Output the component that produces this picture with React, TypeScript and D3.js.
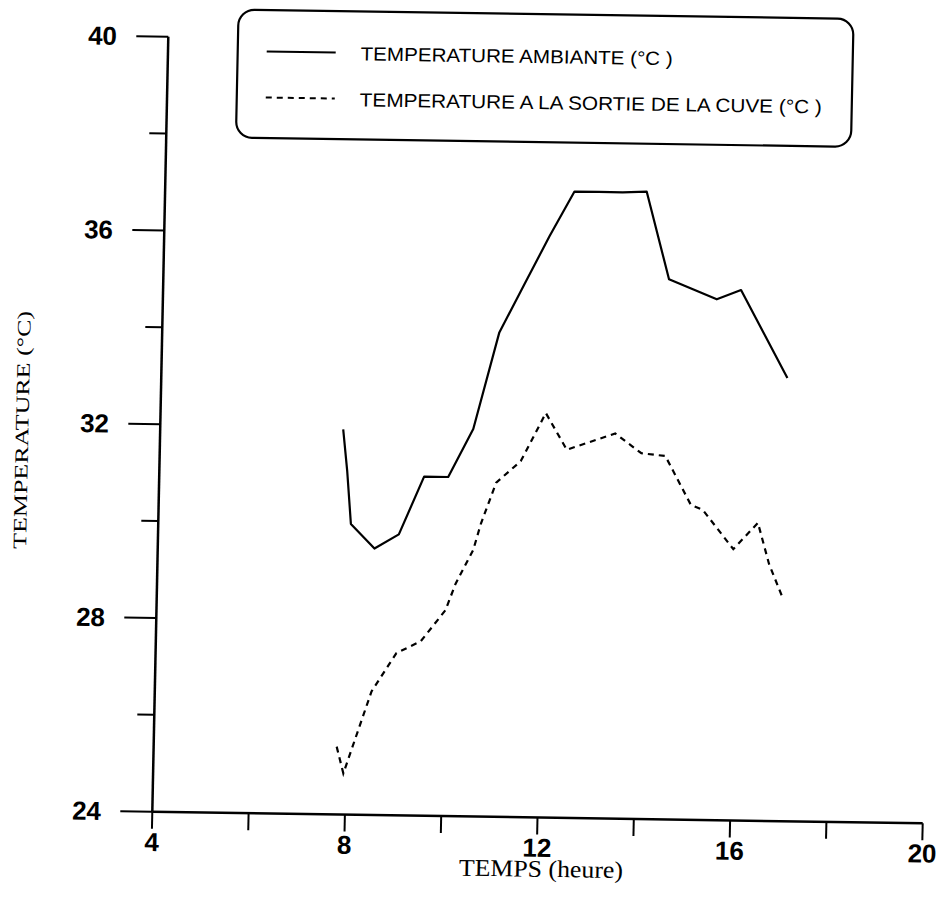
import React from "react";
import * as d3 from "d3";

// ---- data ----
const timeAmbiante = [7.8, 7.9, 8.0, 8.5, 9.0, 9.5, 10.0, 10.5, 11.0, 11.5, 12.0, 12.5, 13.0, 13.5, 14.0, 14.5, 15.0, 15.5, 16.0, 16.5, 17.0];
const tempAmbiante = [31.95, 31.1, 30.0, 29.5, 29.8, 31.0, 31.0, 32.0, 34.0, 35.0, 36.0, 36.93, 36.93, 36.93, 36.95, 35.15, 34.95, 34.75, 34.95, 34.05, 33.15];

const timeCuve = [7.8, 7.95, 8.5, 9.0, 9.3, 9.5, 10.0, 10.2, 10.55, 10.7, 11.0, 11.5, 12.0, 12.45, 13.45, 14.0, 14.5, 15.05, 15.3, 15.95, 16.45, 16.7, 17.0];
const tempCuve = [25.4, 24.85, 26.55, 27.35, 27.5, 27.6, 28.25, 28.8, 29.5, 30.05, 30.9, 31.35, 32.35, 31.6, 31.95, 31.55, 31.5, 30.5, 30.4, 29.6, 30.15, 29.3, 28.6];

const xMajorTicks = [4, 8, 12, 16, 20];
const xMinorTicks = [6, 10, 14, 18];
const yMajorTicks = [24, 28, 32, 36, 40];
const yMinorTicks = [26, 30, 34, 38];

const legendLabels = ["TEMPERATURE AMBIANTE (°C )", "TEMPERATURE A LA SORTIE DE LA CUVE (°C )"];
const xTitle = "TEMPS (heure)";
const yTitle = "TEMPERATURE (°C)";

export default function App() {
  const W = 944;
  const H = 920;
  const x = d3.scaleLinear().domain([4, 20]).range([152.3, 922.7]);
  const y = d3.scaleLinear().domain([24, 40]).range([811.7, 36.7]);

  const line = d3
    .line<[number, number]>()
    .x((d) => x(d[0]))
    .y((d) => y(d[1]));

  const ambPts = timeAmbiante.map((t, i) => [t, tempAmbiante[i]] as [number, number]);
  const cuvePts = timeCuve.map((t, i) => [t, tempCuve[i]] as [number, number]);

  const x0 = x(4);
  const y0 = y(24);
  const sans = "'Liberation Sans', Arial, sans-serif";
  const serif = "'Liberation Serif', 'Times New Roman', serif";

  return (
    <svg
      width={W}
      height={H}
      style={{ position: "absolute", left: 0, top: 0, background: "#fff" }}
    >
      <rect x={0} y={0} width={W} height={H} fill="#fff" />
      {/* the scanned page is slightly rotated */}
      <g transform="matrix(1,0.01506,-0.02064,1,16.75,-2.294)">
        {/* axes */}
        <line x1={x0} y1={y(40)} x2={x0} y2={y0} stroke="#000" strokeWidth={2.5} />
        <line x1={x0} y1={y0} x2={x(20)} y2={y0} stroke="#000" strokeWidth={2.5} />
        {yMajorTicks.map((v) => (
          <line key={"ym" + v} x1={x0 - 32} x2={x0} y1={y(v)} y2={y(v)} stroke="#000" strokeWidth={2} />
        ))}
        {yMinorTicks.map((v) => (
          <line key={"yn" + v} x1={x0 - 17} x2={x0} y1={y(v)} y2={y(v)} stroke="#000" strokeWidth={2} />
        ))}
        {xMajorTicks.concat(xMinorTicks).map((v) => (
          <line key={"xt" + v} x1={x(v)} x2={x(v)} y1={y0} y2={y0 + 17} stroke="#000" strokeWidth={2} />
        ))}
        {yMajorTicks.map((v) => (
          <text
            key={"yl" + v}
            x={101}
            y={y(v)}
            textAnchor="end"
            dominantBaseline="central"
            fontFamily={sans}
            fontWeight="bold"
            fontSize={26}
            fill="#000"
          >
            {v}
          </text>
        ))}
        {xMajorTicks.map((v) => (
          <text
            key={"xl" + v}
            x={x(v)}
            y={842}
            textAnchor="middle"
            dominantBaseline="central"
            fontFamily={sans}
            fontWeight="bold"
            fontSize={26}
            fill="#000"
          >
            {v}
          </text>
        ))}
        <text
          x={542}
          y={863}
          textAnchor="middle"
          dominantBaseline="central"
          fontFamily={serif}
          fontSize={24}
          textLength={164}
          lengthAdjust="spacingAndGlyphs"
          fill="#000"
        >
          {xTitle}
        </text>
        <text
          transform="translate(14,432) rotate(-90)"
          textAnchor="middle"
          dominantBaseline="central"
          fontFamily={serif}
          fontSize={19}
          textLength={238}
          lengthAdjust="spacingAndGlyphs"
          fill="#000"
        >
          {yTitle}
        </text>

        {/* series */}
        <path d={line(ambPts) || ""} fill="none" stroke="#000" strokeWidth={2.2} strokeLinejoin="round" />
        <path
          d={line(cuvePts) || ""}
          fill="none"
          stroke="#000"
          strokeWidth={2.2}
          strokeDasharray="6 5"
        />

        {/* legend */}
        <rect x={222} y={8.5} width={615} height={128} rx={16} ry={16} fill="none" stroke="#000" strokeWidth={2.2} />
        <line x1={251} x2={320} y1={50} y2={50} stroke="#000" strokeWidth={2} />
        <line x1={251} x2={320} y1={96} y2={96} stroke="#000" strokeWidth={2} strokeDasharray="6 5" />
        <text
          x={345}
          y={51}
          dominantBaseline="central"
          fontFamily={sans}
          fontSize={19}
          textLength={312}
          lengthAdjust="spacingAndGlyphs"
          fill="#000"
        >
          {legendLabels[0]}
        </text>
        <text
          x={345}
          y={97}
          dominantBaseline="central"
          fontFamily={sans}
          fontSize={19}
          textLength={462}
          lengthAdjust="spacingAndGlyphs"
          fill="#000"
        >
          {legendLabels[1]}
        </text>
      </g>
    </svg>
  );
}
